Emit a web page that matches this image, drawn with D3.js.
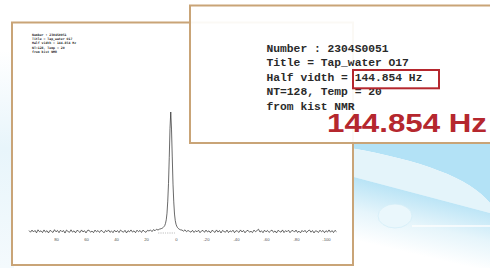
<!DOCTYPE html>
<html>
<head>
<meta charset="utf-8">
<script src="https://cdn.jsdelivr.net/npm/d3@7"></script>
<style>
  html, body { margin: 0; padding: 0; background: #fff; overflow: hidden; }
</style>
</head>
<body>
<div id="chart"></div>
<script>
const shift = [
  98, 97, 96, 95, 94, 93, 92, 91, 90, 89,
  88, 87, 86, 85, 84, 83, 82, 81, 80, 79,
  78, 77, 76, 75, 74, 73, 72, 71, 70, 69,
  68, 67, 66, 65, 64, 63, 62, 61, 60, 59,
  58, 57, 56, 55, 54, 53, 52, 51, 50, 49,
  48, 47, 46, 45, 44, 43, 42, 41, 40, 39,
  38, 37, 36, 35, 34, 33, 32, 31, 30, 29,
  28, 27, 26, 25, 24, 23, 22, 21, 20, 19,
  18, 17, 16, 15, 14, 13, 12, 11,
  10, 9.5, 9, 8.5, 8, 7.5, 7, 6.5, 6, 5.5, 5, 4.5, 4, 3.5,
  3, 2.5, 2, 1.5, 1, 0.5, 0, -0.5, -1, -1.5, -2, -2.5, -3,
  -4, -5, -6, -7, -8, -9, -10, -11, -12, -13,
  -14, -15, -16, -17, -18, -19, -20, -21, -22, -23,
  -24, -25, -26, -27, -28, -29, -30, -31, -32, -33,
  -34, -35, -36, -37, -38, -39, -40, -41, -42, -43,
  -44, -45, -46, -47, -48, -49, -50, -51, -52, -53,
  -54, -55, -56, -57, -58, -59, -60, -61, -62, -63,
  -64, -65, -66, -67, -68, -69, -70, -71, -72, -73,
  -74, -75, -76, -77, -78, -79, -80, -81, -82, -83,
  -84, -85, -86, -87, -88, -89, -90, -91, -92, -93,
  -94, -95, -96, -97, -98, -99, -100, -101, -102, -103,
  -104, -105, -106, -107
];
// relative intensity (peak = 100)
const intensity = [
  0.8, -0.6, 1.2, -0.4, 0.9, -1.1, 1.4, -0.2, 0.6, -0.9,
  1.3, -0.5, 0.7, -1.2, 1.0, 0.1, -0.8, 1.5, -0.3, 0.9,
  -1.0, 1.1, -0.2, 0.8, -1.3, 1.2, 0.0, -0.7, 1.4, -0.5,
  0.6, -1.1, 1.0, 0.3, -0.9, 1.3, -0.4, 0.7, -1.2, 0.9,
  1.1, -0.6, 0.4, -1.0, 1.2, -0.3, 0.8, -0.8, 1.0, 0.2,
  -1.1, 0.9, -0.2, 1.3, -0.7, 0.5, -1.0, 1.1, -0.4, 0.8,
  -0.9, 1.2, 0.1, -0.6, 1.0, -1.2, 0.7, -0.3, 1.3, -0.5,
  0.6, -1.0, 1.1, -0.2, 0.9, -0.8, 1.2, 0.0, -0.7, 1.0,
  0.4, 1.3, -0.1, 1.6, 0.6, 1.9, 1.2, 2.0,
  2.3, 2.6, 2.9, 3.4, 4.1, 5.0, 6.8, 9.8, 15.3, 25.4, 40.2, 61.8, 86.3, 100,
  85.7, 62.4, 39.6, 24.8, 14.6, 9.2, 6.1, 4.4, 3.3, 2.6, 2.0, 1.7, 1.4,
  1.2, 0.3, 1.4, -0.2, 0.9, 0.1, -0.6, 1.0, -0.8, 0.7,
  -0.3, 1.1, -1.0, 0.5, 0.9, -0.7, 1.2, -0.4, 0.6, -1.1,
  1.0, 0.2, -0.8, 1.3, -0.5, 0.8, -1.2, 0.9, 0.0, -0.6,
  1.2, -0.9, 0.6, -0.3, 1.1, -1.0, 0.7, 0.3, -0.8, 1.3,
  -0.4, 0.9, -1.1, 0.5, 1.0, -0.6, 0.2, -0.9, 1.2, -0.2,
  0.8, 1.9, -0.5, 0.6, -1.0, 1.1, -0.3, 0.9, -0.8, 0.4,
  1.2, -0.7, 0.5, -1.2, 1.0, 0.1, -0.6, 1.3, -0.9, 0.7,
  -0.2, 1.1, -1.0, 0.6, 0.8, -0.5, 1.2, -0.8, 0.3, -1.1,
  0.9, -0.4, 1.0, -0.9, 0.5, 1.2, -0.6, 0.8, -1.2, 0.6,
  0.2, -0.8, 1.1, -0.3, 0.9, -1.0, 0.7, -0.5, 1.3, -0.6,
  0.8, -0.9, 1.0, -0.2
];
const tickValues = [80, 60, 40, 20, 0, -20, -40, -60, -80, -100];
const infoLines = [
  "Number : 2304S0051",
  "Title = Tap_water O17",
  "Half vidth = 144.854 Hz",
  "NT=128, Temp = 20",
  "from kist NMR"
];
const halfWidthLabel = "144.854 Hz";

const width = 490;
const height = 268;
const tan = "#c9a477";
const red = "#b5272e";

const svg = d3.select("#chart")
  .append("svg")
  .attr("width", width)
  .attr("height", height)
  .attr("viewBox", [0, 0, width, height]);

// ---- background swooshes ----
const defs = svg.append("defs");
const lowGrad = defs.append("linearGradient")
  .attr("id", "lowBlue")
  .attr("gradientUnits", "userSpaceOnUse")
  .attr("x1", 420).attr("y1", 188).attr("x2", 405).attr("y2", 252);
lowGrad.append("stop").attr("offset", 0).attr("stop-color", "#b2e1f5");
lowGrad.append("stop").attr("offset", 0.55).attr("stop-color", "#e6f5fb");
lowGrad.append("stop").attr("offset", 1).attr("stop-color", "#ffffff");

const leftGrad = defs.append("linearGradient")
  .attr("id", "leftBlue")
  .attr("x1", 0).attr("y1", 0).attr("x2", 0).attr("y2", 1);
leftGrad.append("stop").attr("offset", 0).attr("stop-color", "#ffffff");
leftGrad.append("stop").attr("offset", 0.45).attr("stop-color", "#e8f5fb");
leftGrad.append("stop").attr("offset", 1).attr("stop-color", "#f4fafd");

const bg = svg.append("g").attr("class", "background");
bg.append("rect").attr("width", width).attr("height", height).attr("fill", "#fff");
bg.append("rect").attr("x", 0).attr("y", 50).attr("width", 14).attr("height", 218)
  .attr("fill", "url(#leftBlue)");
bg.append("path")
  .attr("d", "M350,143 L490,143 L490,203 C470,178 420,160 350,148 Z")
  .attr("fill", "#b3e2f6");
bg.append("path")
  .attr("d", "M350,148 C420,160 470,178 490,203 L490,213 L350,176 Z")
  .attr("fill", "#e4f4fa");
bg.append("path")
  .attr("d", "M350,176 L490,213 L490,268 L350,268 Z")
  .attr("fill", "url(#lowBlue)");
bg.append("ellipse")
  .attr("cx", 395).attr("cy", 216).attr("rx", 17).attr("ry", 12)
  .attr("fill", "#eaf7fc").attr("stroke", "#d3edf8").attr("stroke-width", 0.8);
bg.append("line")
  .attr("x1", 412).attr("x2", 490).attr("y1", 226).attr("y2", 226)
  .attr("stroke", "#fff").attr("stroke-width", 2).attr("opacity", 0.7);

// ---- back panel: full spectrum ----
const back = svg.append("g").attr("class", "back-panel");
back.append("rect")
  .attr("x", 12).attr("y", 22.5).attr("width", 341).attr("height", 242.5)
  .attr("fill", "#fff").attr("stroke", tan).attr("stroke-width", 2);

back.append("g")
  .attr("font-family", "DejaVu Sans Mono, monospace")
  .attr("font-weight", "bold")
  .attr("font-size", 3.2)
  .attr("fill", "#1a1a1a")
  .selectAll("text")
  .data(infoLines)
  .join("text")
  .attr("x", 32)
  .attr("y", (d, i) => 35.5 + i * 4.4)
  .text(d => d);

const x = d3.scaleLinear().domain([100, -110]).range([26, 341]);
const y = d3.scaleLinear().domain([0, 100]).range([231.5, 112]);

const points = shift.map((s, i) => [s, intensity[i]]);
const line = d3.line()
  .x(d => x(d[0]))
  .y(d => y(d[1]));

// dotted baseline under the peak
back.append("line")
  .attr("x1", x(12)).attr("x2", x(0))
  .attr("y1", 233).attr("y2", 233)
  .attr("stroke", "#555").attr("stroke-width", 0.6)
  .attr("stroke-dasharray", "0.6,1.2");

back.append("path")
  .datum(points)
  .attr("fill", "none")
  .attr("stroke", "#2a2a2a")
  .attr("stroke-width", 0.7)
  .attr("stroke-linejoin", "round")
  .attr("d", line);

const axis = back.append("g")
  .attr("transform", "translate(0,238)")
  .call(d3.axisBottom(x).tickValues(tickValues).tickSize(0).tickPadding(0).tickFormat(d => d));
axis.select(".domain").remove();
axis.selectAll("text")
  .attr("font-family", "Liberation Sans, sans-serif")
  .attr("font-size", 4.2)
  .attr("fill", "#555");

// ---- front panel: zoomed header ----
const front = svg.append("g").attr("class", "front-panel");
front.append("rect")
  .attr("x", 190).attr("y", 5.5).attr("width", 330).attr("height", 137.5)
  .attr("fill", "#fff").attr("fill-opacity", 0.93)
  .attr("stroke", tan).attr("stroke-width", 2);

front.append("g")
  .attr("font-family", "Liberation Mono, monospace")
  .attr("font-weight", "bold")
  .attr("font-size", 11.3)
  .attr("fill", "#2a2a2a")
  .selectAll("text")
  .data(infoLines)
  .join("text")
  .attr("x", 266.5)
  .attr("y", (d, i) => 52 + i * 14.4)
  .text(d => d);

front.append("rect")
  .attr("x", 353).attr("y", 70).attr("width", 86).attr("height", 18.3)
  .attr("fill", "none").attr("stroke", red).attr("stroke-width", 2);

front.append("text")
  .attr("x", 327)
  .attr("y", 132)
  .attr("font-family", "Liberation Sans, Arial, sans-serif")
  .attr("font-weight", "bold")
  .attr("font-size", 25.5)
  .attr("textLength", 160)
  .attr("lengthAdjust", "spacingAndGlyphs")
  .attr("fill", red)
  .text(halfWidthLabel);
</script>
</body>
</html>
